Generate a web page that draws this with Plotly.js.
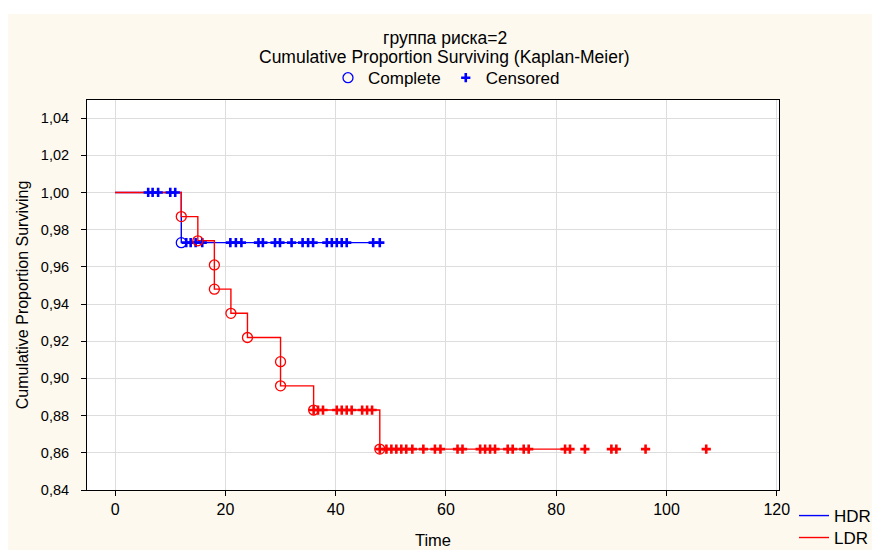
<!DOCTYPE html>
<html>
<head>
<meta charset="utf-8">
<script src="https://cdn.plot.ly/plotly-3.0.1.min.js"></script>
<style>
  html, body { margin: 0; padding: 0; background: #ffffff; width: 875px; height: 550px; overflow: hidden; }
  #chart { position: absolute; left: 8px; top: 14px; width: 864px; height: 536px; }
</style>
</head>
<body>
<div id="chart"></div>
<script>
// ---- Data ----
const groups = ["HDR", "LDR"];

// HDR: event (complete) times and survival after each event
const hdrEventTimes = [12];
const hdrEventSurv = [0.973];
// HDR censored times
const hdrCensTimes = [6.0, 6.8, 7.8, 10.0, 10.9,
  12.9, 13.7, 14.6, 15.8, 20.9, 21.9, 22.9, 26.0, 26.8, 29.0, 29.9, 32.0,
  34.0, 35.0, 35.9, 38.4, 39.3, 40.2, 41.1, 42.0, 46.8, 48.0];

// LDR: event (complete) times and survival after each event
const ldrEventTimes = [12, 15, 18, 18, 21, 24, 30, 30, 36, 48];
const ldrEventSurv = [0.987, 0.974, 0.961, 0.948, 0.935, 0.922, 0.909, 0.896, 0.883, 0.862];
// LDR censored times
const ldrCensTimes = [36.0, 36.8, 37.7, 40.2, 41.1, 42.0, 42.9, 44.8, 45.7, 46.6,
  48.0, 49.2, 50.1, 51.0, 51.9, 52.8, 53.9, 55.9, 58.0, 59.0, 62.1, 63.0,
  66.2, 67.1, 68.0, 68.9, 71.2, 72.1, 74.1, 75.0, 81.6, 82.5, 85.2, 90.0, 90.9, 96.2, 107.2];
const ldrLineEnd = 81.6;

const xTicks = [0, 20, 40, 60, 80, 100, 120];
const yTicks = [0.84, 0.86, 0.88, 0.90, 0.92, 0.94, 0.96, 0.98, 1.00, 1.02, 1.04];

const titleLines = ["группа риска=2", "Cumulative Proportion Surviving (Kaplan-Meier)"];
const legendLabels = ["Complete", "Censored"];

// ---- helpers ----
function survAt(t, evT, evS) {
  let s = 1.0;
  for (let i = 0; i < evT.length; i++) { if (evT[i] <= t) s = evS[i]; }
  return s;
}
function stepLine(evT, evS, endT) {
  const x = [0].concat(evT, [endT]);
  const y = [1.0].concat(evS, [survAt(endT, evT, evS)]);
  return { x, y };
}

const BLUE = "#0000ff", RED = "#ff0000";
const FONT = "Liberation Sans, Arial, sans-serif";

const hdrLine = stepLine(hdrEventTimes, hdrEventSurv, Math.max(...hdrCensTimes));
const ldrLine = stepLine(ldrEventTimes, ldrEventSurv, ldrLineEnd);

const circleMarker = (c) => ({ symbol: "circle-open", size: 10, color: c, line: { color: c, width: 1.3 } });
const plusMarker = (c) => ({ symbol: "cross-thin-open", size: 6.6, color: c, line: { color: c, width: 2.6 } });

const traces = [
  { x: hdrLine.x, y: hdrLine.y, mode: "lines", line: { shape: "hv", color: BLUE, width: 1.4 },
    name: groups[0], legend: "legend2", showlegend: true, hoverinfo: "skip" },
  { x: ldrLine.x, y: ldrLine.y, mode: "lines", line: { shape: "hv", color: RED, width: 1.4 },
    name: groups[1], legend: "legend3", showlegend: true, hoverinfo: "skip" },
  { x: hdrEventTimes, y: hdrEventSurv, mode: "markers", marker: circleMarker(BLUE), showlegend: false },
  { x: hdrCensTimes, y: hdrCensTimes.map(t => survAt(t, hdrEventTimes, hdrEventSurv)), mode: "markers",
    marker: plusMarker(BLUE), showlegend: false },
  { x: ldrEventTimes, y: ldrEventSurv, mode: "markers", marker: circleMarker(RED), showlegend: false },
  { x: ldrCensTimes, y: ldrCensTimes.map(t => survAt(t, ldrEventTimes, ldrEventSurv)), mode: "markers",
    marker: plusMarker(RED), showlegend: false },
  // legend-only entries
  { x: [null], y: [null], mode: "markers", marker: circleMarker(BLUE), name: legendLabels[0], legend: "legend", showlegend: true },
  { x: [null], y: [null], mode: "markers", marker: plusMarker(BLUE), name: legendLabels[1], legend: "legend", showlegend: true }
];

const legendCommon = {
  xref: "paper", yref: "paper", bgcolor: "rgba(0,0,0,0)", borderwidth: 0,
  font: { family: FONT, size: 17, color: "#000000" }
};

const layout = {
  width: 864, height: 536,
  margin: { l: 79, r: 93, t: 86, b: 60, autoexpand: false },
  paper_bgcolor: "#fdf9ef",
  plot_bgcolor: "#ffffff",
  separators: ", ",
  font: { family: FONT, size: 17, color: "#000000" },
  annotations: [
    { text: titleLines[0], xref: "paper", yref: "paper", x: 0.5173, y: 1.159, xanchor: "center", yanchor: "middle",
      showarrow: false, font: { family: FONT, size: 17.5, color: "#000000" } },
    { text: titleLines[1], xref: "paper", yref: "paper", x: 0.5173, y: 1.110, xanchor: "center", yanchor: "middle",
      showarrow: false, font: { family: FONT, size: 17.5, color: "#000000" } }
  ],
  xaxis: {
    range: [-5.1, 120.4], tickvals: xTicks, ticktext: xTicks.map(String),
    showgrid: true, gridcolor: "#dddddd", gridwidth: 1, zeroline: false,
    showline: true, linecolor: "#000000", linewidth: 1, mirror: true,
    ticks: "outside", ticklen: 5, tickcolor: "#000000",
    tickfont: { family: FONT, size: 16, color: "#000000" },
    title: { text: "Time", font: { family: FONT, size: 16.5, color: "#000000" }, standoff: 17 },
    automargin: false
  },
  yaxis: {
    range: [0.84, 1.0497], tickvals: yTicks, tickformat: ".2f",
    showgrid: true, gridcolor: "#dddddd", gridwidth: 1, zeroline: false,
    showline: true, linecolor: "#000000", linewidth: 1, mirror: true,
    ticks: "outside", ticklen: 5, tickcolor: "#000000", ticklabelstandoff: 9,
    tickfont: { family: FONT, size: 14.5, color: "#000000" },
    title: { text: "Cumulative Proportion Surviving", font: { family: FONT, size: 16, color: "#000000" }, standoff: 8 },
    automargin: false
  },
  legend: Object.assign({}, legendCommon, {
    orientation: "h", x: 0.5195, xanchor: "center", y: 1.056, yanchor: "middle"
  }),
  legend2: Object.assign({}, legendCommon, {
    orientation: "v", x: 1.0217, xanchor: "left", y: -0.0667, yanchor: "middle"
  }),
  legend3: Object.assign({}, legendCommon, {
    orientation: "v", x: 1.0217, xanchor: "left", y: -0.123, yanchor: "middle"
  }),
  showlegend: true,
  hovermode: false
};

Plotly.newPlot("chart", traces, layout, { staticPlot: true, displayModeBar: false });
</script>
</body>
</html>
